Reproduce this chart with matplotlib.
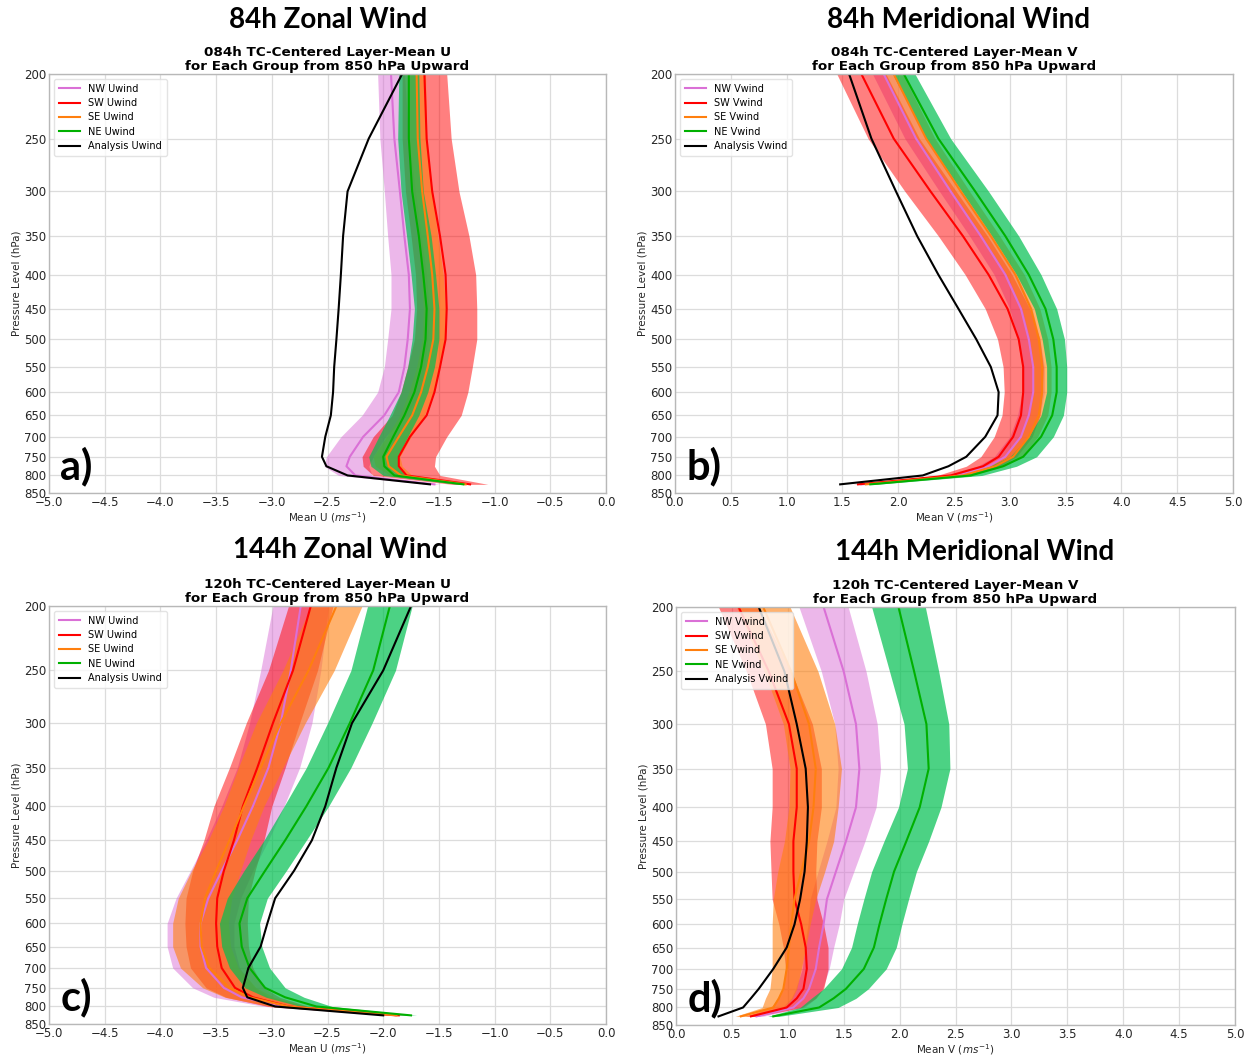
import numpy as np
import matplotlib
matplotlib.use("Agg")
import matplotlib.pyplot as plt
from matplotlib.ticker import FixedLocator, FixedFormatter, NullLocator

# =========================
# DATA
# =========================
levels = [200, 250, 300, 350, 400, 450, 500, 550, 600, 650, 700, 750, 775, 800, 825]
groups = ["NW", "SW", "SE", "NE"]

# a) 84h zonal wind
a_nw = [-1.93, -1.90, -1.85, -1.81, -1.77, -1.76, -1.78, -1.81, -1.86, -1.99, -2.18, -2.30, -2.33, -2.25, -1.54]
a_sw = [-1.63, -1.61, -1.56, -1.49, -1.44, -1.43, -1.44, -1.49, -1.54, -1.61, -1.76, -1.86, -1.86, -1.79, -1.22]
a_se = [-1.70, -1.69, -1.65, -1.60, -1.56, -1.54, -1.55, -1.60, -1.66, -1.74, -1.86, -1.97, -1.95, -1.84, -1.26]
a_ne = [-1.77, -1.77, -1.74, -1.68, -1.64, -1.61, -1.62, -1.66, -1.72, -1.81, -1.91, -2.00, -1.99, -1.90, -1.28]
a_an = [-1.83, -2.13, -2.32, -2.36, -2.38, -2.40, -2.42, -2.44, -2.45, -2.47, -2.52, -2.55, -2.51, -2.32, -1.58]
a_nw_sd = [0.12, 0.13, 0.14, 0.15, 0.16, 0.17, 0.18, 0.18, 0.19, 0.20, 0.20, 0.21, 0.20, 0.15, 0.05]
a_sw_sd = [0.20, 0.22, 0.24, 0.26, 0.27, 0.27, 0.28, 0.29, 0.30, 0.31, 0.33, 0.33, 0.32, 0.30, 0.16]
a_se_sd = [0.08, 0.08, 0.09, 0.09, 0.10, 0.10, 0.10, 0.10, 0.11, 0.11, 0.11, 0.12, 0.12, 0.10, 0.05]
a_ne_sd = [0.09, 0.10, 0.10, 0.11, 0.11, 0.11, 0.12, 0.12, 0.12, 0.13, 0.13, 0.13, 0.12, 0.10, 0.05]

# b) 84h meridional wind
b_nw = [1.87, 2.16, 2.47, 2.74, 2.96, 3.10, 3.17, 3.21, 3.21, 3.17, 3.10, 2.96, 2.81, 2.54, 1.67]
b_sw = [1.67, 1.96, 2.29, 2.58, 2.81, 2.98, 3.08, 3.12, 3.12, 3.10, 3.03, 2.90, 2.76, 2.47, 1.64]
b_se = [1.96, 2.25, 2.56, 2.83, 3.05, 3.19, 3.26, 3.29, 3.29, 3.26, 3.17, 3.03, 2.87, 2.58, 1.71]
b_ne = [2.05, 2.36, 2.69, 2.96, 3.17, 3.32, 3.39, 3.42, 3.42, 3.38, 3.28, 3.12, 2.94, 2.65, 1.75]
b_an = [1.56, 1.76, 1.98, 2.17, 2.36, 2.54, 2.70, 2.83, 2.90, 2.89, 2.78, 2.61, 2.45, 2.22, 1.48]
b_nw_sd = [0.10, 0.10, 0.10, 0.10, 0.10, 0.10, 0.10, 0.10, 0.10, 0.10, 0.10, 0.10, 0.10, 0.08, 0.04]
b_sw_sd = [0.22, 0.23, 0.23, 0.22, 0.21, 0.20, 0.19, 0.18, 0.17, 0.17, 0.17, 0.16, 0.15, 0.12, 0.05]
b_se_sd = [0.08, 0.08, 0.08, 0.08, 0.08, 0.08, 0.08, 0.08, 0.08, 0.08, 0.08, 0.08, 0.08, 0.07, 0.04]
b_ne_sd = [0.10, 0.11, 0.12, 0.12, 0.11, 0.10, 0.10, 0.09, 0.09, 0.10, 0.11, 0.12, 0.12, 0.10, 0.05]

# c) 144h zonal wind
c_nw = [-2.74, -2.83, -2.92, -3.03, -3.17, -3.31, -3.45, -3.57, -3.64, -3.64, -3.59, -3.43, -3.27, -2.88, -1.89]
c_sw = [-2.65, -2.81, -2.99, -3.13, -3.26, -3.34, -3.43, -3.49, -3.50, -3.49, -3.45, -3.33, -3.17, -2.85, -1.86]
c_se = [-2.42, -2.67, -2.92, -3.10, -3.25, -3.38, -3.50, -3.60, -3.64, -3.63, -3.56, -3.38, -3.20, -2.85, -1.88]
c_ne = [-1.94, -2.09, -2.30, -2.49, -2.69, -2.88, -3.06, -3.22, -3.29, -3.27, -3.20, -3.06, -2.88, -2.60, -1.75]
c_an = [-1.75, -2.00, -2.28, -2.42, -2.52, -2.64, -2.80, -2.97, -3.04, -3.10, -3.21, -3.26, -3.22, -2.97, -2.00]
c_nw_sd = [0.25, 0.27, 0.28, 0.28, 0.28, 0.28, 0.28, 0.29, 0.30, 0.30, 0.30, 0.28, 0.25, 0.18, 0.05]
c_sw_sd = [0.20, 0.22, 0.24, 0.25, 0.26, 0.27, 0.28, 0.28, 0.28, 0.28, 0.28, 0.26, 0.24, 0.18, 0.05]
c_se_sd = [0.23, 0.23, 0.22, 0.20, 0.18, 0.19, 0.22, 0.24, 0.25, 0.26, 0.26, 0.24, 0.22, 0.16, 0.05]
c_ne_sd = [0.20, 0.20, 0.20, 0.20, 0.20, 0.19, 0.19, 0.18, 0.18, 0.18, 0.18, 0.18, 0.17, 0.14, 0.05]

# d) 144h meridional wind
d_nw = [1.32, 1.50, 1.61, 1.64, 1.61, 1.52, 1.43, 1.35, 1.32, 1.28, 1.25, 1.19, 1.14, 1.05, 0.72]
d_sw = [0.56, 0.83, 1.01, 1.08, 1.08, 1.05, 1.05, 1.06, 1.12, 1.16, 1.17, 1.14, 1.08, 0.99, 0.67]
d_se = [0.78, 1.03, 1.19, 1.25, 1.23, 1.19, 1.12, 1.06, 1.03, 1.01, 0.99, 0.96, 0.92, 0.87, 0.58]
d_ne = [1.99, 2.13, 2.24, 2.26, 2.18, 2.06, 1.95, 1.88, 1.82, 1.77, 1.68, 1.52, 1.41, 1.28, 0.87]
d_an = [0.74, 0.97, 1.08, 1.16, 1.18, 1.17, 1.15, 1.11, 1.06, 0.99, 0.87, 0.74, 0.67, 0.60, 0.38]
d_nw_sd = [0.22, 0.20, 0.19, 0.19, 0.18, 0.17, 0.16, 0.15, 0.14, 0.13, 0.12, 0.12, 0.11, 0.10, 0.05]
d_sw_sd = [0.18, 0.20, 0.21, 0.22, 0.22, 0.21, 0.20, 0.20, 0.20, 0.20, 0.19, 0.18, 0.17, 0.14, 0.05]
d_se_sd = [0.24, 0.24, 0.23, 0.23, 0.22, 0.22, 0.21, 0.19, 0.17, 0.15, 0.13, 0.12, 0.12, 0.10, 0.05]
d_ne_sd = [0.24, 0.22, 0.20, 0.19, 0.19, 0.20, 0.20, 0.20, 0.20, 0.20, 0.20, 0.20, 0.20, 0.17, 0.05]

line_colors = {"NW": "orchid", "SW": "red", "SE": "#ff7f0e", "NE": "#00b000"}
band_colors = {"NW": ("orchid", 0.5), "SW": ("red", 0.5), "SE": ("#ff7f0e", 0.6), "NE": ("#00c050", 0.7)}

panels = [
    dict(rect=[49, 74, 606, 493], means=[a_nw, a_sw, a_se, a_ne], sds=[a_nw_sd, a_sw_sd, a_se_sd, a_ne_sd],
         an=a_an, comp="U", xlim=(-5, 0), sub="084h TC-Centered Layer-Mean U", letter="a)",
         head="84h Zonal Wind", head_xy=(328, 20)),
    dict(rect=[675, 74, 1233, 493], means=[b_nw, b_sw, b_se, b_ne], sds=[b_nw_sd, b_sw_sd, b_se_sd, b_ne_sd],
         an=b_an, comp="V", xlim=(0, 5), sub="084h TC-Centered Layer-Mean V", letter="b)",
         head="84h Meridional Wind", head_xy=(959, 20)),
    dict(rect=[49, 606, 606, 1024], means=[c_nw, c_sw, c_se, c_ne], sds=[c_nw_sd, c_sw_sd, c_se_sd, c_ne_sd],
         an=c_an, comp="U", xlim=(-5, 0), sub="120h TC-Centered Layer-Mean U", letter="c)",
         head="144h Zonal Wind", head_xy=(340, 550)),
    dict(rect=[676, 607, 1235, 1025], means=[d_nw, d_sw, d_se, d_ne], sds=[d_nw_sd, d_sw_sd, d_se_sd, d_ne_sd],
         an=d_an, comp="V", xlim=(0, 5), sub="120h TC-Centered Layer-Mean V", letter="d)",
         head="144h Meridional Wind", head_xy=(975, 552)),
]

W, H = 1253, 1056
fig = plt.figure(figsize=(W / 100, H / 100), dpi=100)

for p in panels:
    x0, y0, x1, y1 = p["rect"]
    ax = fig.add_axes([x0 / W, 1 - y1 / H, (x1 - x0) / W, (y1 - y0) / H])
    lev = np.array(levels)

    # spread bands
    for g, m, s in zip(groups, p["means"], p["sds"]):
        m = np.array(m)
        s = np.array(s)
        col, al = band_colors[g]
        ax.fill_betweenx(lev, m - s, m + s, color=col, alpha=al, linewidth=0)

    # group means + analysis
    for g, m in zip(groups, p["means"]):
        ax.plot(m, lev, color=line_colors[g], lw=1.5, label=f"{g} {p['comp']}wind")
    ax.plot(p["an"], lev, color="black", lw=1.5, label=f"Analysis {p['comp']}wind")

    ax.set_yscale("log")
    ax.set_ylim(850, 200)
    ax.set_xlim(*p["xlim"])
    yt = list(range(200, 851, 50))
    ax.yaxis.set_major_locator(FixedLocator(yt))
    ax.yaxis.set_major_formatter(FixedFormatter([str(v) for v in yt]))
    ax.yaxis.set_minor_locator(NullLocator())
    ax.set_xticks(np.arange(p["xlim"][0], p["xlim"][1] + 0.01, 0.5))

    ax.grid(True, color="#dcdcdc", lw=0.9)
    ax.set_axisbelow(True)
    for sp in ax.spines.values():
        sp.set_color("#b8b8b8")
        sp.set_linewidth(1.0)
    ax.tick_params(length=0, labelsize=8.5, colors="#262626", pad=2)

    ax.set_xlabel(f"Mean {p['comp']} ($ms^{{-1}}$)", fontsize=7.5, color="#262626", labelpad=1)
    ax.set_ylabel("Pressure Level (hPa)", fontsize=7.5, color="#262626", labelpad=2)
    ax.set_title(p["sub"] + "\nfor Each Group from 850 hPa Upward", fontsize=9.7,
                 fontweight="bold", pad=3, linespacing=1.05)

    leg = ax.legend(loc="upper left", fontsize=7, framealpha=0.8, handlelength=2.2,
                    borderpad=0.5, labelspacing=0.45)
    leg.get_frame().set_edgecolor("#dddddd")

    ax.text(0.02, 0.015, p["letter"], transform=ax.transAxes, fontsize=30,
            fontweight="bold", family="Lato", ha="left", va="bottom")

    hx, hy = p["head_xy"]
    fig.text(hx / W, 1 - hy / H, p["head"], fontsize=20, fontweight="bold",
             family="Lato", ha="center", va="center")

fig.savefig("out.png", dpi=100)
